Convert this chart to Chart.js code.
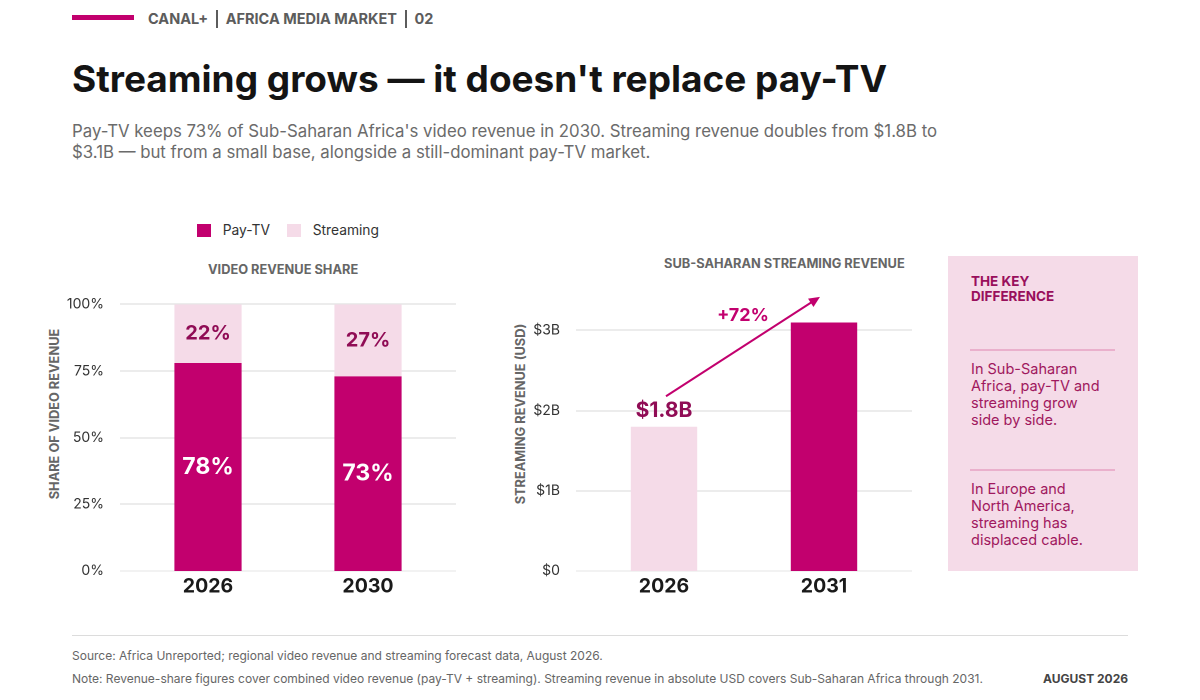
<!DOCTYPE html>
<html>
<head>
<meta charset="utf-8">
<script src="https://cdn.jsdelivr.net/npm/chart.js@4"></script>
<style>
  html, body { margin: 0; padding: 0; background: #fff; }
  body { width: 1200px; height: 700px; position: relative; overflow: hidden; font-family: Inter, "Noto Sans", sans-serif; }
  .abs { position: absolute; white-space: nowrap; }
  .kicker-bar { left: 72px; top: 15px; width: 62px; height: 5px; background: #c2006e; }
  .kicker { left: 148px; top: 9px; font-size: 14.5px; font-weight: 700; color: #5c5c5c; line-height: 20px; }
  .kicker .sep { display: inline-block; width: 1.5px; height: 18px; background: #5c5c5c; vertical-align: -4px; margin: 0 8px; }
  .title { left: 72px; top: 56px; font-size: 37px; font-weight: 700; color: #141414; letter-spacing: 0; line-height: 46px; }
  .sub { left: 72px; top: 121px; font-size: 16.8px; color: #6b6b6b; line-height: 21px; }
  .legend { top: 221px; font-size: 13.8px; color: #333; line-height: 18px; }
  .sw { display: inline-block; width: 14px; height: 13px; vertical-align: -2px; }
  .ctitle { font-size: 12.8px; font-weight: 700; color: #666; line-height: 16px; }
  .ytitle { font-size: 12.8px; font-weight: 700; color: #666; line-height: 16px; transform: translate(-50%, -50%) rotate(-90deg); }
  canvas { position: absolute; }
  .box { left: 948px; top: 256px; width: 190px; height: 315px; background: #f5dbe8; }
  .box .head { position: absolute; left: 23px; top: 18px; font-size: 13.5px; font-weight: 700; color: #990f5c; line-height: 15px; }
  .box .rule { position: absolute; left: 22px; width: 145px; height: 1.5px; background: #eab0cc; }
  .box .para { position: absolute; left: 23px; font-size: 14.5px; color: #a0185e; line-height: 17px; }
  .footline { left: 72px; top: 635px; width: 1056px; height: 1px; background: #dcdcdc; }
  .foot { left: 72px; font-size: 12px; color: #666; line-height: 16px; }
  .date { right: 72px; top: 671px; font-size: 12px; font-weight: 700; color: #444; line-height: 16px; }
</style>
</head>
<body>

<div class="abs kicker-bar"></div>
<div class="abs kicker">CANAL+<span class="sep"></span>AFRICA MEDIA MARKET<span class="sep"></span>02</div>
<div class="abs title">Streaming grows — it doesn't replace pay-TV</div>
<div class="abs sub">Pay-TV keeps 73% of Sub-Saharan Africa's video revenue in 2030. Streaming revenue doubles from $1.8B to<br>$3.1B — but from a small base, alongside a still-dominant pay-TV market.</div>

<div class="abs legend" style="left:197px"><span class="sw" style="background:#c2006e"></span>&nbsp;&nbsp;&nbsp;Pay-TV</div>
<div class="abs legend" style="left:287px"><span class="sw" style="background:#f5dbe8"></span>&nbsp;&nbsp;&nbsp;Streaming</div>

<div class="abs ctitle" style="left:208px; top:262px">VIDEO REVENUE SHARE</div>
<div class="abs ctitle" style="left:664px; top:256px">SUB-SAHARAN STREAMING REVENUE</div>

<div class="abs ytitle" style="left:55px; top:414px">SHARE OF VIDEO REVENUE</div>
<div class="abs ytitle" style="left:521px; top:414px">STREAMING REVENUE (USD)</div>

<canvas id="shareChart"></canvas>
<canvas id="revChart"></canvas>

<div class="abs box">
  <div class="head">THE KEY<br>DIFFERENCE</div>
  <div class="rule" style="top:93px"></div>
  <div class="para" style="top:104px">In Sub-Saharan<br>Africa, pay-TV and<br>streaming grow<br>side by side.</div>
  <div class="rule" style="top:213px"></div>
  <div class="para" style="top:224px">In Europe and<br>North America,<br>streaming has<br>displaced cable.</div>
</div>

<div class="abs footline"></div>
<div class="abs foot" style="top:648px">Source: Africa Unreported; regional video revenue and streaming forecast data, August 2026.</div>
<div class="abs foot" style="top:671px">Note: Revenue-share figures cover combined video revenue (pay-TV + streaming). Streaming revenue in absolute USD covers Sub-Saharan Africa through 2031.</div>
<div class="abs date">AUGUST 2026</div>

<script>
///////Data
const shareYears = ['2026', '2030'];
const payTvShare = [78, 73];
const streamingShare = [22, 27];
const shareTicks = [0, 25, 50, 75, 100];

const revYears = ['2026', '2031'];
const streamingRevenue = [1.8, 3.1]; // USD billions
const revTicks = [0, 1, 2, 3];
const revGrowthLabel = '+72%';

const MAGENTA = '#c2006e';
const PINK = '#f5dbe8';
const DARK = '#900c55';
const GRID = '#e6e6e6';

Chart.defaults.font.family = 'Inter, "Noto Sans", sans-serif';
Chart.defaults.animation = false;

// place a canvas at an exact spot on the page (Chart.js handles the pixel ratio)
function placeCanvas(el, left, top, w, h) {
  el.style.left = left + 'px';
  el.style.top = top + 'px';
  el.width = w;
  el.height = h;
}

// grid lines that run a little past the plot on both sides
const wideGrid = {
  id: 'wideGrid',
  beforeDatasetsDraw(chart) {
    const { ctx, chartArea } = chart;
    const y = chart.scales.y;
    ctx.save();
    ctx.lineWidth = 1.5;
    y.ticks.forEach((t) => {
      const py = Math.round(y.getPixelForValue(t.value));
      ctx.strokeStyle = t.value === 0 ? '#eeeeee' : GRID;
      ctx.beginPath();
      ctx.moveTo(chartArea.left - 8, py);
      ctx.lineTo(chartArea.right + 8, py);
      ctx.stroke();
    });
    ctx.restore();
  },
};

// percentage labels in the middle of every stacked segment
const segmentLabels = {
  id: 'segmentLabels',
  afterDatasetsDraw(chart) {
    const { ctx } = chart;
    ctx.save();
    ctx.textAlign = 'center';
    ctx.textBaseline = 'middle';
    chart.data.datasets.forEach((ds, di) => {
      chart.getDatasetMeta(di).data.forEach((bar, i) => {
        const mid = (bar.y + bar.base) / 2;
        if (di === 0) {
          ctx.fillStyle = '#fff';
          ctx.font = '700 23px Inter';
        } else {
          ctx.fillStyle = DARK;
          ctx.font = '700 20px Inter';
        }
        ctx.fillText(ds.data[i] + '%', bar.x, mid);
      });
    });
    ctx.restore();
  },
};

// value on the first bar and growth arrow between the two
const growthArrow = {
  id: 'growthArrow',
  afterDatasetsDraw(chart) {
    const { ctx } = chart;
    const meta = chart.getDatasetMeta(0);
    const y = chart.scales.y;
    const b0 = meta.data[0];
    const b1 = meta.data[1];
    ctx.save();
    ctx.textAlign = 'center';
    ctx.textBaseline = 'middle';
    ctx.fillStyle = DARK;
    ctx.font = '700 21px Inter';
    ctx.fillText('$' + streamingRevenue[0].toFixed(1) + 'B', b0.x, b0.y - 16);

    const x0 = b0.x + 2;
    const y0 = y.getPixelForValue(streamingRevenue[0] + 0.38);
    const x1 = b1.x - 4;
    const y1 = y.getPixelForValue(streamingRevenue[1] + 0.32);
    const ang = Math.atan2(y1 - y0, x1 - x0);
    ctx.strokeStyle = MAGENTA;
    ctx.fillStyle = MAGENTA;
    ctx.lineWidth = 2;
    ctx.beginPath();
    ctx.moveTo(x0, y0);
    ctx.lineTo(x1 - 8 * Math.cos(ang), y1 - 8 * Math.sin(ang));
    ctx.stroke();
    ctx.beginPath();
    ctx.moveTo(x1, y1);
    ctx.lineTo(x1 - 11 * Math.cos(ang) + 5 * Math.sin(ang), y1 - 11 * Math.sin(ang) - 5 * Math.cos(ang));
    ctx.lineTo(x1 - 11 * Math.cos(ang) - 5 * Math.sin(ang), y1 - 11 * Math.sin(ang) + 5 * Math.cos(ang));
    ctx.closePath();
    ctx.fill();

    ctx.font = '700 18px Inter';
    ctx.fillText(revGrowthLabel, (x0 + x1) / 2, Math.min(y0, y1) + 19);
    ctx.restore();
  },
};

function keepTicks(list) {
  return (scale) => {
    scale.ticks = list.map((v) => ({ value: v }));
  };
}

//////Share chart
const shareEl = document.getElementById('shareChart');
placeCanvas(shareEl, 40, 280, 440, 330);
new Chart(shareEl, {
  type: 'bar',
  data: {
    labels: shareYears,
    datasets: [
      { label: 'Pay-TV', data: payTvShare, backgroundColor: MAGENTA },
      { label: 'Streaming', data: streamingShare, backgroundColor: PINK },
    ],
  },
  options: {
    responsive: false,
    devicePixelRatio: 2,
    layout: { padding: { top: 14, right: 32, left: 0, bottom: 0 } },
    plugins: { legend: { display: false }, tooltip: { enabled: false } },
    datasets: { bar: { categoryPercentage: 1, barPercentage: 0.42 } },
    scales: {
      x: {
        stacked: true,
        grid: { display: false },
        border: { display: false },
        ticks: { color: '#1a1a1a', font: { size: 19.5, weight: '700' }, padding: -4 },
        afterFit: (s) => { s.height = 39; },
      },
      y: {
        stacked: true,
        min: 0,
        max: 100,
        grid: { display: false },
        border: { display: false },
        afterBuildTicks: keepTicks(shareTicks),
        ticks: { color: '#333', font: { size: 14 }, padding: 16, callback: (v) => v + '%' },
        afterFit: (s) => { s.width = 88; },
      },
    },
  },
  plugins: [wideGrid, segmentLabels],
});

//////Revenue chart
const revEl = document.getElementById('revChart');
placeCanvas(revEl, 500, 266, 430, 344);
new Chart(revEl, {
  type: 'bar',
  data: {
    labels: revYears,
    datasets: [
      { label: 'Streaming revenue', data: streamingRevenue, backgroundColor: [PINK, MAGENTA] },
    ],
  },
  options: {
    responsive: false,
    devicePixelRatio: 2,
    layout: { padding: { top: 9, right: 26, left: 0, bottom: 0 } },
    plugins: { legend: { display: false }, tooltip: { enabled: false } },
    datasets: { bar: { categoryPercentage: 1, barPercentage: 0.415 } },
    scales: {
      x: {
        grid: { display: false },
        border: { display: false },
        ticks: { color: '#1a1a1a', font: { size: 19.5, weight: '700' }, padding: -4 },
        afterFit: (s) => { s.height = 39; },
      },
      y: {
        min: 0,
        max: 3.5,
        grid: { display: false },
        border: { display: false },
        afterBuildTicks: keepTicks(revTicks),
        ticks: { color: '#333', font: { size: 14 }, padding: 16, callback: (v) => (v === 0 ? '$0' : '$' + v + 'B') },
        afterFit: (s) => { s.width = 84; },
      },
    },
  },
  plugins: [wideGrid, growthArrow],
});
</script>
</body>
</html>
